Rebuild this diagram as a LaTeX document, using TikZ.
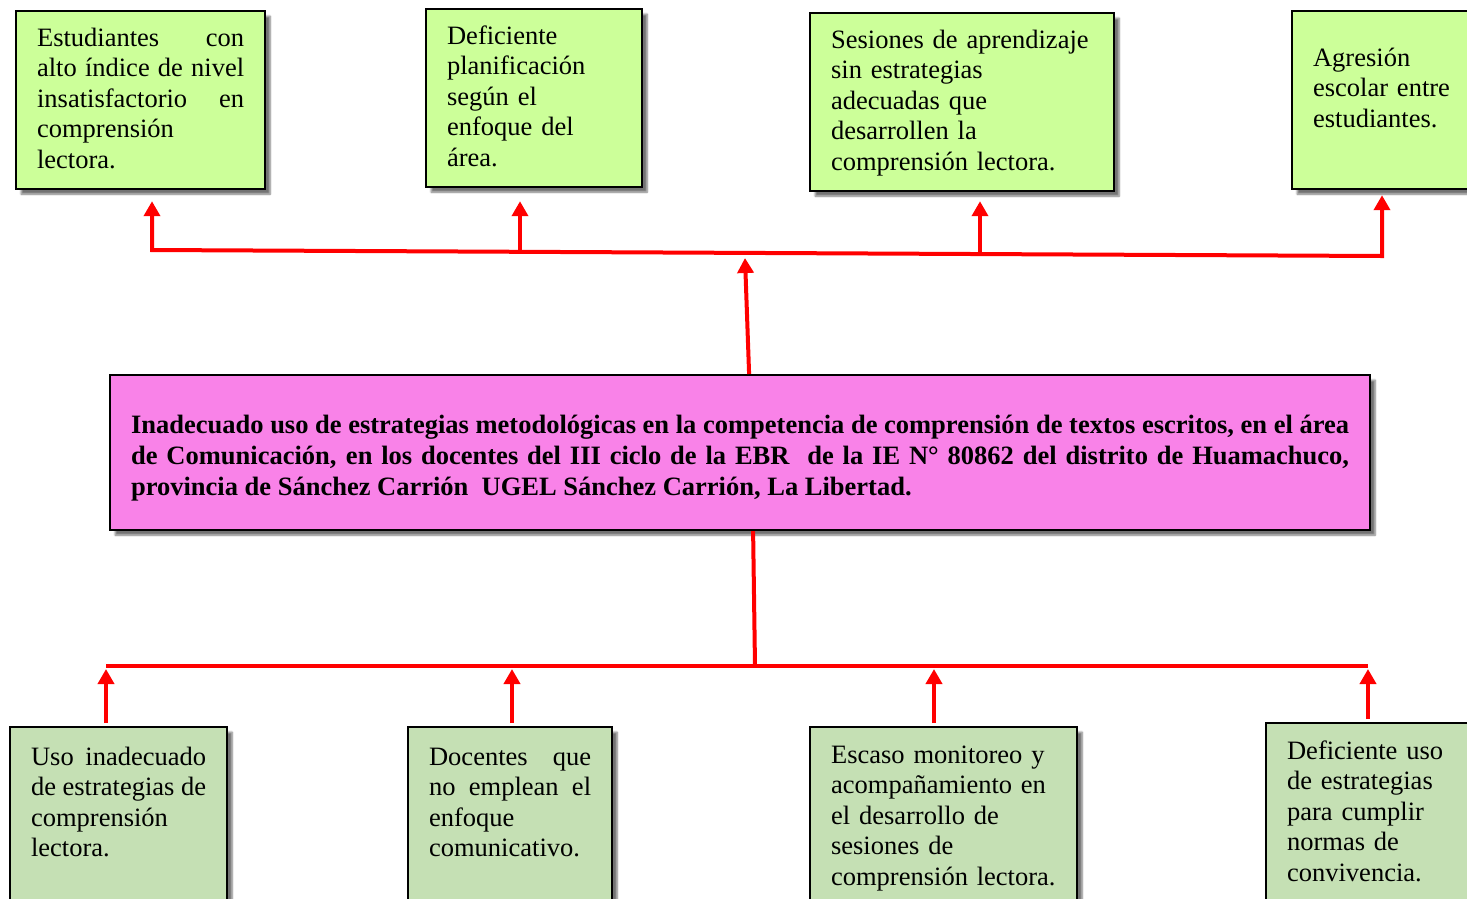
\documentclass[tikz,border=0pt]{standalone}
\usepackage{fontspec}
\setmainfont{Liberation Serif}
\usepackage{xcolor}
\usetikzlibrary{arrows.meta,shadows.blur}

\definecolor{verdeA}{RGB}{204,255,153}
\definecolor{verdeB}{RGB}{197,224,180}
\definecolor{rosa}{RGB}{249,130,232}
\hyphenpenalty=10000\relax

\begin{document}
\begin{tikzpicture}[x=1pt,y=-1pt,
	caja/.style={draw,line width=2.2pt,anchor=north west,inner xsep=21pt,inner ysep=12pt,text height=23pt,
		font=\fontsize{26.5}{30.5}\selectfont,
		blur shadow={shadow xshift=5pt,shadow yshift=-5pt,shadow blur steps=6,shadow opacity=55}},
	efecto/.style={caja,fill=verdeA,text depth=131pt},
	causa/.style={caja,fill=verdeB,text depth=150pt,text height=26pt},
	punta/.tip={Triangle[width=16pt,length=15pt]},
	linea/.style={red,line width=4pt},
	flecha/.style={linea,-punta}]
	\useasboundingbox (0,0) rectangle (1467,898);
	\clip (0,0) rectangle (1467,898);
	
	% efectos
	\node[efecto,text width=207pt,align=justify] (e1) at (15,10)
		{Estudiantes con\linebreak alto índice de nivel\linebreak insatisfactorio en\linebreak comprensión\newline lectora.};
	\node[efecto,text width=174pt,align=left] (e2) at (425,8)
		{Deficiente\\ planificación\\ según el\\ enfoque del\\ área.};
	\node[efecto,text width=262pt,align=left] (e3) at (809,12)
		{Sesiones de aprendizaje\\ sin estrategias\\ adecuadas que\\ desarrollen la\\ comprensión lectora.};
	\node[efecto,text width=170pt,align=left,text height=43pt,text depth=111pt] (e4) at (1291,10)
		{Agresión\\ escolar entre\\ estudiantes.};
	
	% problema
	\node[caja,fill=rosa,text width=1218pt,align=justify,text height=46pt,text depth=85pt,
		font=\fontsize{26.5}{31}\selectfont\bfseries] (centro) at (109,374)
		{Inadecuado uso de estrategias metodológicas en la competencia de comprensión de textos escritos, en el área\linebreak
		de Comunicación, en los docentes del III ciclo de la EBR\ \ de la IE N° 80862 del distrito de Huamachuco,\linebreak
		provincia de Sánchez Carrión\ \ UGEL Sánchez Carrión, La Libertad.};
	
	% causas
	\node[causa,text width=175pt,align=justify] (c1) at (9,726)
		{Uso inadecuado\linebreak de estrategias de\linebreak comprensión\newline lectora.};
	\node[causa,text width=162pt,align=justify] (c2) at (407,726)
		{Docentes que\linebreak no emplean el\linebreak enfoque\newline comunicativo.};
	\node[causa,text width=225pt,align=left,text height=24pt] (c3) at (809,726)
		{Escaso monitoreo y\\ acompañamiento en\\ el desarrollo de\\ sesiones de\\ comprensión lectora.};
	\node[causa,text width=170pt,align=left,text height=24pt] (c4) at (1265,722)
		{Deficiente uso\\ de estrategias\\ para cumplir\\ normas de\\ convivencia.};
	
	% conectores de arriba
	\coordinate (h1) at (152,250);
	\coordinate (h2) at (520,251);
	\coordinate (h3) at (980,254);
	\coordinate (h4) at (1382,256);
	\coordinate (hc) at (745,258);
	\draw[linea,punta-punta] ([yshift=-11pt]h1 |- e1.south) -- (h1) -- (h4) -- ([yshift=-5pt]h4 |- e4.south);
	\draw[flecha] (h2) -- ([yshift=-13pt]h2 |- e2.south);
	\draw[flecha] (h3) -- ([yshift=-9pt]h3 |- e3.south);
	\draw[flecha] ([xshift=9pt]centro.north) -- (hc);
	
	% conectores de abajo
	\coordinate (b1) at (106,666);
	\coordinate (b2) at (512,666);
	\coordinate (b3) at (934,666);
	\coordinate (b4) at (1368,666);
	\coordinate (bc) at (755,666);
	\draw[linea] (b1) -- (b4);
	\draw[linea] ([xshift=13pt]centro.south) -- (bc);
	\foreach \i in {1,2,3,4}
		\draw[flecha] ([yshift=3pt]b\i |- c\i.north) -- ([yshift=-3pt]b\i);
\end{tikzpicture}
\end{document}
